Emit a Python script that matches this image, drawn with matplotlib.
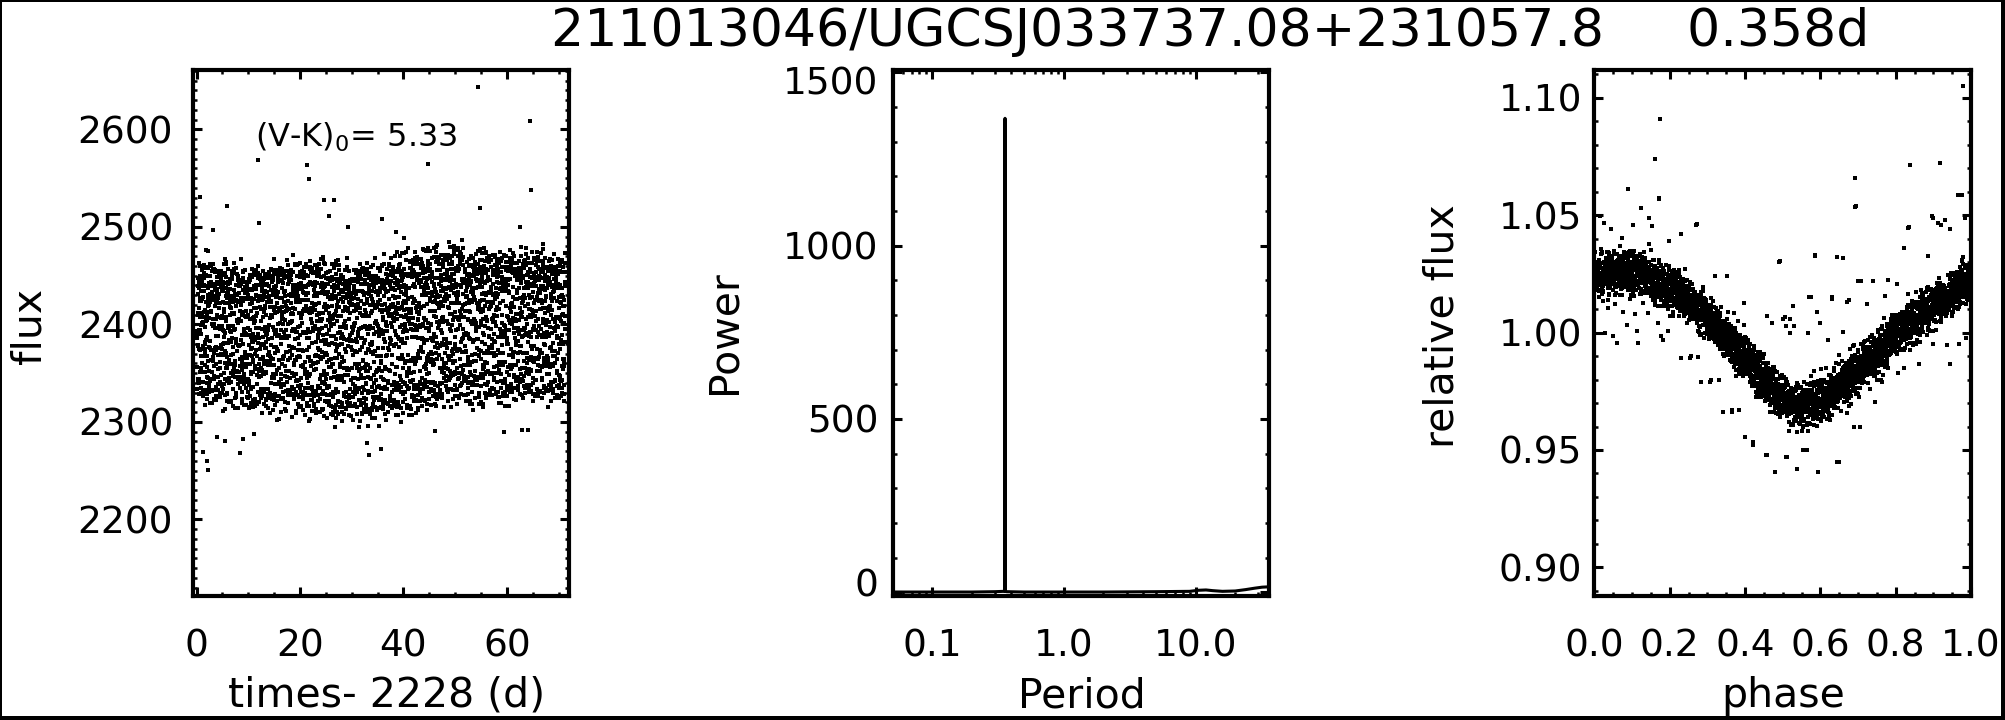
import numpy as np
import matplotlib
matplotlib.use("Agg")
import matplotlib.pyplot as plt
from matplotlib.ticker import MultipleLocator, FixedLocator, FuncFormatter, LogLocator, NullFormatter
from matplotlib.lines import Line2D
from matplotlib.transforms import ScaledTranslation

plt.rcParams['font.family'] = ['DejaVu Sans']
plt.rcParams['mathtext.fontset'] = 'dejavusans'

# ---------------- data ----------------
title_id = "211013046/UGCSJ033737.08+231057.8"
period_d = 0.358
vk0 = 5.33
time_offset = 2228
cadence_d = 0.020434          # K2 long cadence
t_first, t_last = 0.1, 71.3

# slow baseline of the light curve (days, flux) and relative spot amplitude
base_t = [0, 10, 20, 30, 40, 50, 60, 72]
base_flux = [2400, 2387, 2392, 2383, 2392, 2404, 2401, 2400]
amp_scale = [0.88, 0.86, 0.95, 0.99, 1.01, 0.98, 0.93, 0.88]
noise_flux = 8.5

# folded light-curve profile (phase, relative flux)
prof_phase = [0.0, 0.05, 0.12, 0.21, 0.30, 0.39, 0.48, 0.54, 0.61, 0.70, 0.785, 0.875, 0.96, 1.0]
prof_rel = [1.027, 1.028, 1.028, 1.021, 1.008, 0.991, 0.974, 0.967, 0.971, 0.984, 0.998, 1.010, 1.021, 1.024]

# outliers in the time-series panel (t - 2228, flux)
out_t = [54.5, 64.5, 11.9, 21.3, 44.7, 21.8, 64.7, 0.6, 24.6, 26.5, 25.7, 54.8, 5.9, 35.8,
         12.0, 3.2, 29.2, 38.6, 40.1, 62.5, 66.9, 2.2, 2.1, 1.3, 8.4, 5.6, 33.3, 35.6,
         11.2, 59.5, 62.9, 64.1, 46.1, 33.0, 9.0, 4.0]
out_f = [2643, 2609, 2569, 2563, 2564, 2549, 2538, 2531, 2528, 2528, 2511, 2519, 2521, 2508,
         2504, 2497, 2500, 2495, 2489, 2500, 2482, 2251, 2260, 2269, 2268, 2280, 2266, 2272,
         2288, 2290, 2292, 2292, 2291, 2278, 2282, 2285]

# outliers in the folded panel (phase, relative flux)
out_ph = [0.174, 0.160, 0.171, 0.979, 0.918, 0.838, 0.975, 0.693, 0.693, 0.089, 0.836, 0.90, 0.92,
          0.27, 0.585, 0.491, 0.661, 0.70, 0.67, 0.725, 0.57, 0.63, 0.50, 0.51, 0.52,
          0.479, 0.538, 0.594, 0.508, 0.555, 0.643, 0.457, 0.399, 0.42, 0.365, 0.383, 0.31, 0.33,
          0.255, 0.274, 0.028, 0.050, 0.059, 0.116, 0.112, 0.086, 0.108, 0.077, 0.037, 0.022,
          0.055, 0.130, 0.143, 0.170, 0.176, 0.196, 0.183, 0.229, 0.257, 0.201, 0.170, 0.223,
          0.095, 0.126, 0.015, 0.025, 0.090, 0.123, 0.146, 0.172, 0.103, 0.152, 0.272, 0.198,
          0.229, 0.043, 0.073, 0.897, 0.913, 0.931, 0.944, 0.834, 0.821, 0.966, 0.984, 0.886,
          0.694, 0.644, 0.587, 0.492, 0.944, 0.968, 0.935, 0.863, 0.900, 0.988, 0.838, 0.882,
          0.574, 0.528, 0.506, 0.52, 0.53, 0.632, 0.677, 0.707, 0.741, 0.590, 0.599, 0.568,
          0.458, 0.397, 0.372, 0.320, 0.351, 0.471, 0.661, 0.621, 0.780, 0.772, 0.803,
          0.282, 0.306, 0.342, 0.366, 0.400, 0.422, 0.455, 0.512, 0.564, 0.650, 0.688,
          0.705, 0.670, 0.745, 0.732, 0.763, 0.806, 0.821, 0.750, 0.856]
out_rel = [1.091, 1.074, 1.057, 1.105, 1.0725, 1.0716, 1.0588, 1.0657, 1.0535, 1.0612, 1.0451, 1.049, 1.046,
           1.046, 1.033, 1.030, 1.032, 1.022, 1.013, 1.012, 1.015, 1.015, 1.006, 1.003, 1.000,
           0.9408, 0.9418, 0.9408, 0.947, 0.950, 0.945, 0.948, 0.9555, 0.9535, 0.967, 0.967, 0.980, 0.980,
           0.9894, 0.9897, 0.9998, 0.9987, 0.9956, 0.9956, 1.0009, 1.0034, 1.0081, 1.009, 1.0105, 1.0133,
           1.0162, 1.0126, 1.0084, 1.0041, 0.9984, 1.0005, 0.997, 0.9892, 0.990, 1.0072, 1.0112, 1.0105,
           1.0143, 1.0176, 1.0496, 1.0468, 1.061, 1.0532, 1.049, 1.0575, 1.046, 1.0454, 1.0463, 1.039,
           1.0422, 1.044, 1.0404, 1.0499, 1.0467, 1.048, 1.044, 1.0447, 1.036, 1.0587, 1.049, 1.0325,
           1.0539, 1.0321, 1.0325, 1.0304, 0.9867, 0.9951, 0.9946, 0.9867, 0.995, 0.9976, 0.9927, 0.999,
           1.0152, 1.0114, 1.0067, 1.006, 1.003, 1.0143, 1.0137, 1.0219, 1.0219, 1.009, 1.0041, 0.9998,
           1.0071, 1.0128, 1.0084, 1.0243, 1.024, 1.0041, 1.0001, 0.997, 1.0223, 1.0157, 1.0209,
           0.979, 0.979, 0.9664, 0.9664, 0.9554, 0.952, 0.9479, 0.947, 0.950, 0.945, 0.960,
           0.960, 0.9657, 0.9706, 0.976, 0.979, 0.983, 0.985, 0.983, 0.997]

# periodogram (period in d, power)
pg_period = [0.0508, 0.08, 0.12, 0.2, 0.3, 0.35, 0.3575, 0.358, 0.3585, 0.37, 0.5, 1.0, 2.0,
             5.0, 9.0, 10.5, 12.0, 13.5, 16.0, 20.0, 24.0, 28.0, 32.0, 36.0]
pg_power = [1, 1, 1, 1, 2, 3, 3, 1367, 3, 2, 1, 1, 1, 2, 3, 6, 7, 5, 3, 4, 8, 12, 15, 16]

# ---------------- build the light curve ----------------
t = np.arange(t_first, t_last, cadence_d)
idx = np.arange(t.size, dtype=float)
phase_main = np.mod(t / period_d, 1.0)
shape = np.interp(phase_main, prof_phase, prof_rel)
base = np.interp(t, base_t, base_flux)
amp = np.interp(t, base_t, amp_scale)
# deterministic photometric jitter: sum of quadratic Weyl sequences (quasi-gaussian, sigma ~ 1)
i2 = idx * idx
g = (np.mod(i2 * 0.41421356237 + idx * 0.1, 1) + np.mod(i2 * 0.73205080757 + idx * 0.3, 1)
     + np.mod(i2 * 0.64575131106 + idx * 0.7, 1) + np.mod(i2 * 0.31662479036 + idx * 0.9, 1)
     - 2.0) * 1.732
flux = base * (1.0 + amp * (shape - 1.0)) + noise_flux * g
rel = flux / np.median(base_flux)

# ---------------- figure ----------------
W, H = 2005, 720
fig = plt.figure(figsize=(W / 100, H / 100), dpi=100)


def px_axes(x0, x1, ytop, ybot):
    return fig.add_axes([x0 / W, (H - ybot) / H, (x1 - x0) / W, (ybot - ytop) / H])


def style(ax, ypad):
    for s in ax.spines.values():
        s.set_linewidth(3.0)
    ax.tick_params(which='both', direction='in', top=True, right=True, labelsize=27)
    ax.tick_params(which='major', length=6.5, width=2.2)
    ax.tick_params(which='minor', length=3.2, width=1.8)
    ax.tick_params(axis='x', which='major', pad=24)
    ax.tick_params(axis='y', which='major', pad=ypad)


LABEL = 29.5
ms = 2.2

# left: time series
ax1 = px_axes(192.9, 569.0, 69.8, 595.5)
ax1.plot(t, flux, ls='none', marker='s', ms=ms, mew=0, color='black')
ax1.plot(out_t, out_f, ls='none', marker='s', ms=ms, mew=0, color='black')
ax1.set_xlim(-0.7, 72.0)
ax1.set_ylim(2122, 2661)
ax1.xaxis.set_major_locator(FixedLocator([0, 20, 40, 60]))
ax1.xaxis.set_minor_locator(MultipleLocator(5))
ax1.yaxis.set_major_locator(MultipleLocator(100))
ax1.yaxis.set_minor_locator(MultipleLocator(10))
style(ax1, 14.2)
ax1.set_xlabel(f"times- {time_offset} (d)", fontsize=LABEL)
ax1.set_ylabel("flux", fontsize=LABEL)
ax1.text(11.3, 2582, r"$\mathrm{(V}$-$\mathrm{K)_0}$= " + f"{vk0:.2f}", fontsize=23,
         ha='left', va='baseline')

# middle: periodogram
ax2 = px_axes(893.3, 1269.0, 69.8, 595.5)
ax2.plot(pg_period, pg_power, color='black', lw=2.2)
ax2.set_xscale('log')
ax2.set_xlim(0.0508, 36.1)
ax2.set_ylim(-9, 1507)
ax2.xaxis.set_major_locator(FixedLocator([0.1, 1.0, 10.0]))
ax2.xaxis.set_major_formatter(FuncFormatter(lambda v, p: f"{v:.1f}"))
ax2.xaxis.set_minor_locator(LogLocator(base=10, subs=np.arange(2, 10)))
ax2.xaxis.set_minor_formatter(NullFormatter())
ax2.yaxis.set_major_locator(FixedLocator([0, 500, 1000, 1500]))
ax2.yaxis.set_minor_locator(MultipleLocator(100))
style(ax2, 10.6)
ax2.set_xlabel("Period", fontsize=LABEL)
ax2.set_ylabel("Power", fontsize=LABEL)
# IDL nudges the end labels inward
_yt = ax2.yaxis.get_major_ticks(4)
_yt[0].label1.set_transform(_yt[0].label1.get_transform()
                            + ScaledTranslation(0, 0.10, fig.dpi_scale_trans))
_yt[3].label1.set_transform(_yt[3].label1.get_transform()
                            + ScaledTranslation(0, -0.08, fig.dpi_scale_trans))

# right: folded light curve
ax3 = px_axes(1594.4, 1971.0, 69.8, 595.5)
ax3.plot(phase_main, rel, ls='none', marker='s', ms=ms, mew=0, color='black')
ax3.plot(out_ph, out_rel, ls='none', marker='s', ms=ms, mew=0, color='black')
ax3.set_xlim(0, 1)
ax3.set_ylim(0.888, 1.112)
ax3.xaxis.set_major_locator(MultipleLocator(0.2))
ax3.xaxis.set_minor_locator(MultipleLocator(0.05))
ax3.xaxis.set_major_formatter(FuncFormatter(lambda v, p: f"{v:.1f}"))
ax3.yaxis.set_major_locator(MultipleLocator(0.05))
ax3.yaxis.set_minor_locator(MultipleLocator(0.01))
ax3.yaxis.set_major_formatter(FuncFormatter(lambda v, p: f"{v:.2f}"))
style(ax3, 9.0)
ax3.set_xlabel("phase", fontsize=LABEL)
ax3.set_ylabel("relative flux", fontsize=LABEL)

# label placement
xlab_y = (H - 707 - 124.5) / 525.7
for ax, xc in ((ax1, 387), (ax2, 1081.9), (ax3, 1783.4)):
    x0 = ax.get_position().x0 * W
    w = ax.get_position().width * W
    ax.xaxis.label.set_verticalalignment('baseline')
    ax.xaxis.set_label_coords((xc - x0) / w, xlab_y)
for ax, xc, yc in ((ax1, 30, 326), (ax2, 725, 331.7), (ax3, 1443, 326)):
    x0 = ax.get_position().x0 * W
    w = ax.get_position().width * W
    ax.yaxis.label.set_verticalalignment('center')
    ax.yaxis.set_label_coords((xc - x0) / w, (H - yc - 124.5) / 525.7)

fig.suptitle(f"{title_id}     {period_d:.3f}d", x=1210 / W, y=(H - 46) / H,
             ha='center', va='baseline', fontsize=37.5)

# outer frame
fig.add_artist(Line2D([1 / W, 1 / W], [0, 1], lw=1.44, color='black', zorder=10))
fig.add_artist(Line2D([0, 1], [1 - 1 / H, 1 - 1 / H], lw=1.44, color='black', zorder=10))
fig.add_artist(Line2D([2002.5 / W, 2002.5 / W], [0, 1], lw=3.6, color='black', zorder=10))
fig.add_artist(Line2D([0, 1], [2.5 / H, 2.5 / H], lw=3.6, color='black', zorder=10))

fig.savefig("out.png", dpi=100)
